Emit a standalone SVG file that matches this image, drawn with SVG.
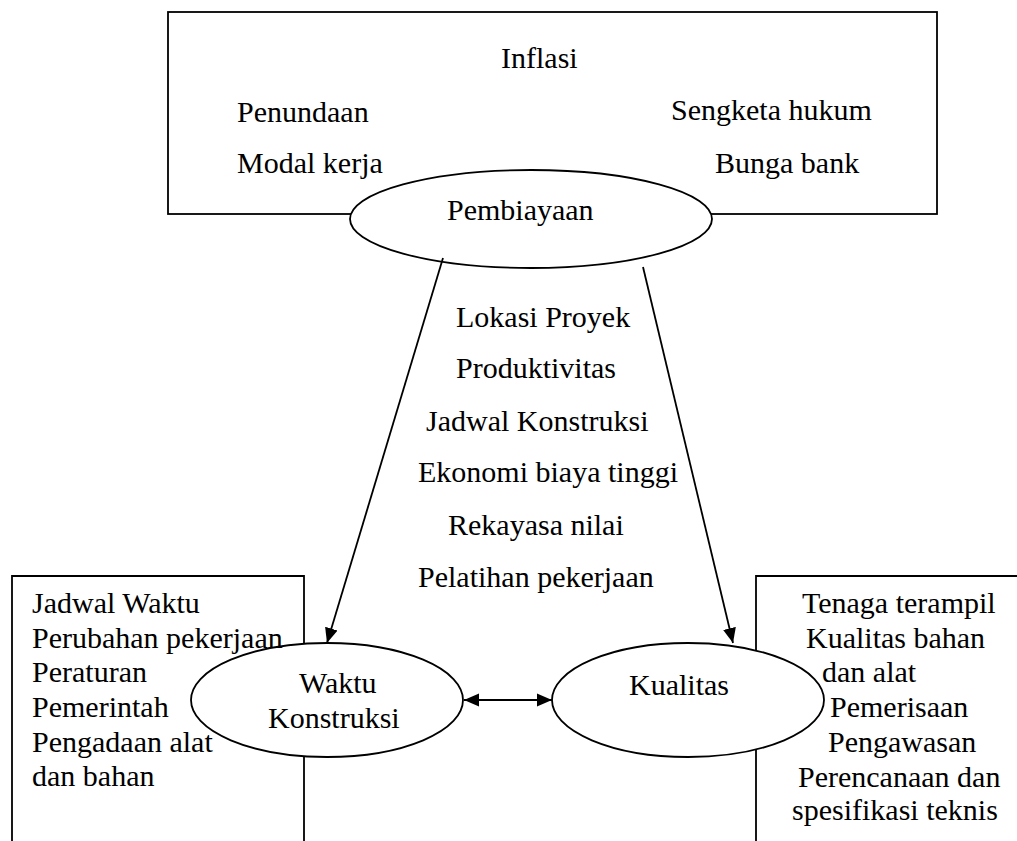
<svg xmlns="http://www.w3.org/2000/svg" width="1017" height="841" viewBox="0 0 1017 841">
<defs>
<style>
text{font-family:"Liberation Serif","Times New Roman",serif;font-size:30px;fill:#000}
.box{fill:#fff;stroke:#000;stroke-width:1.8}
.ell{fill:#fff;stroke:#000;stroke-width:1.8}
.con{fill:none;stroke:#000;stroke-width:1.8}
</style>
<marker id="ah" markerUnits="userSpaceOnUse" markerWidth="16" markerHeight="14" refX="15" refY="7" orient="auto-start-reverse">
<path d="M0,0.5 L15,7 L0,13.5 z" fill="#000"/>
</marker>
</defs>
<rect width="1017" height="841" fill="#fff"/>

<g id="box-pembiayaan">
<rect class="box" x="168" y="12" width="769" height="202"/>
<text x="501" y="68">Inflasi</text>
<text x="237" y="122">Penundaan</text>
<text x="671" y="120">Sengketa hukum</text>
<text x="237" y="173">Modal kerja</text>
<text x="715" y="173">Bunga bank</text>
</g>

<g id="box-waktu">
<path class="box" d="M12,841 L12,576 L304,576 L304,841"/>
</g>

<g id="box-kualitas">
<path class="box" d="M1018,576 L756,576 L756,841"/>
</g>

<g id="node-pembiayaan">
<ellipse class="ell" cx="531" cy="219" rx="181" ry="49"/>
<text x="447" y="220">Pembiayaan</text>
</g>

<g id="node-waktu">
<ellipse class="ell" cx="327" cy="700" rx="136" ry="57"/>
<text x="299" y="693">Waktu</text>
<text x="268" y="728">Konstruksi</text>
</g>

<g id="node-kualitas">
<ellipse class="ell" cx="688" cy="700" rx="136" ry="57"/>
<text x="629" y="695">Kualitas</text>
</g>

<g id="text-waktu">
<text x="32" y="613">Jadwal Waktu</text>
<text x="32" y="648">Perubahan pekerjaan</text>
<text x="32" y="682">Peraturan</text>
<text x="32" y="717">Pemerintah</text>
<text x="32" y="752">Pengadaan alat</text>
<text x="32" y="786">dan bahan</text>
</g>

<g id="text-kualitas">
<text x="802" y="613">Tenaga terampil</text>
<text x="806" y="648">Kualitas bahan</text>
<text x="822" y="682">dan alat</text>
<text x="830" y="717">Pemerisaan</text>
<text x="828" y="752">Pengawasan</text>
<text x="798" y="787">Perencanaan dan</text>
<text x="792" y="820">spesifikasi teknis</text>
</g>

<g id="text-faktor">
<text x="456" y="327">Lokasi Proyek</text>
<text x="456" y="378">Produktivitas</text>
<text x="426" y="431">Jadwal Konstruksi</text>
<text x="418" y="482">Ekonomi biaya tinggi</text>
<text x="448" y="535">Rekayasa nilai</text>
<text x="418" y="587">Pelatihan pekerjaan</text>
</g>

<g id="connectors">
<line class="con" x1="443" y1="258" x2="327" y2="643" marker-end="url(#ah)"/>
<line class="con" x1="643" y1="267" x2="733" y2="643" marker-end="url(#ah)"/>
<line class="con" x1="464" y1="700" x2="552" y2="700" marker-start="url(#ah)" marker-end="url(#ah)"/>
</g>
</svg>
